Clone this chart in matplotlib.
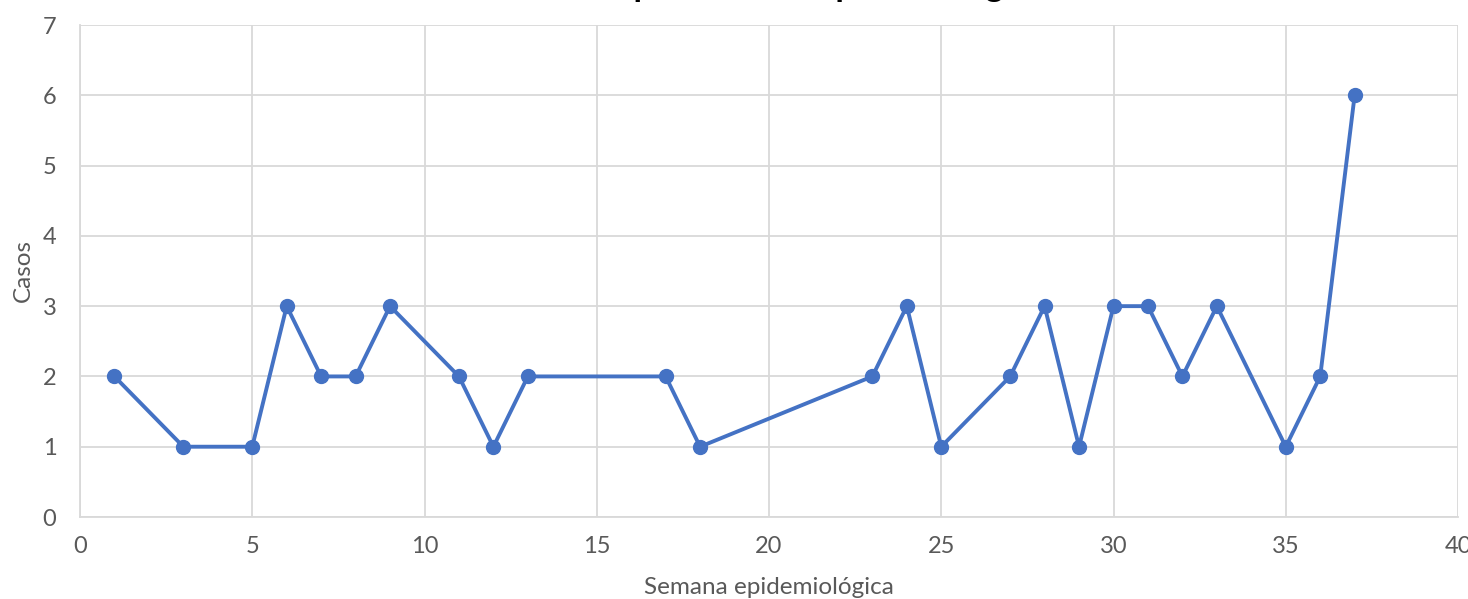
import matplotlib
matplotlib.use("Agg")
import matplotlib.pyplot as plt

semanas = [1, 3, 5, 6, 7, 8, 9, 11, 12, 13, 17, 18, 23, 24, 25, 27, 28, 29, 30, 31, 32, 33, 35, 36, 37]
casos = [2, 1, 1, 3, 2, 2, 3, 2, 1, 2, 2, 1, 2, 3, 1, 2, 3, 1, 3, 3, 2, 3, 1, 2, 6]
x_ticks = [0, 5, 10, 15, 20, 25, 30, 35, 40]
y_ticks = [0, 1, 2, 3, 4, 5, 6, 7]
titulo = "Casos por semana epidemiológica"

plt.rcParams['font.family'] = ['Lato', 'DejaVu Sans']

W, H = 1468, 599
fig = plt.figure(figsize=(W / 100, H / 100), dpi=100)
ax = fig.add_axes([80 / W, 1 - 517 / H, (1458 - 80) / W, (517 - 25) / H])

color = '#4472C4'
ax.plot(semanas, casos, color=color, linewidth=2.8, marker='o', markersize=10,
        markerfacecolor=color, markeredgecolor=color, zorder=3, clip_on=False)

ax.set_xlim(0, 40)
ax.set_ylim(0, 7)
ax.set_xticks(x_ticks)
ax.set_yticks(y_ticks)
ax.grid(True, color='#D9D9D9', linewidth=1.3)
ax.set_axisbelow(True)
for s in ['top', 'right']:
    ax.spines[s].set_visible(False)
for s in ['left', 'bottom']:
    ax.spines[s].set_color('#D9D9D9')
    ax.spines[s].set_linewidth(1.3)
ax.tick_params(length=0, labelsize=17, labelcolor='#595959', pad=14)
ax.tick_params(axis='y', pad=17)

ax.set_xlabel("Semana epidemiológica", fontsize=17.5, color='#595959', labelpad=14)
ax.set_ylabel("Casos", fontsize=17.5, color='#595959', labelpad=6)

fig.text(791 / W, 1 + 4.5 / H, titulo, ha='center', va='baseline',
         fontsize=24.5, fontweight='bold', color='black')

fig.savefig("out.png", dpi=100)
